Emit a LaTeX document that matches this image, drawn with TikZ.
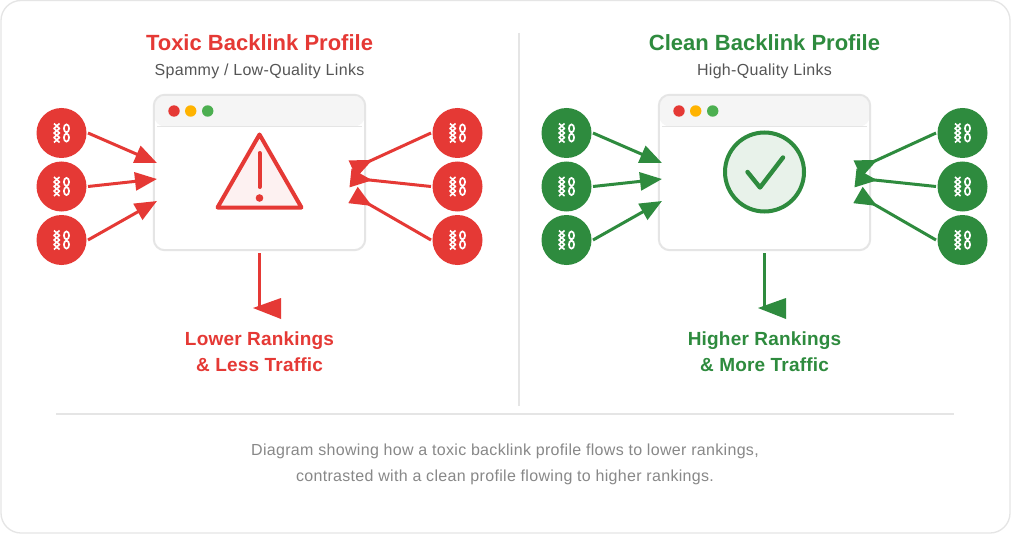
\documentclass[tikz,border=0pt]{standalone}
\usepackage{fontspec}
\setmainfont{Liberation Sans}
\usetikzlibrary{arrows.meta}
\definecolor{toxic}{HTML}{E53935}
\definecolor{clean}{HTML}{2E8B3E}
\definecolor{edge}{HTML}{E5E5E5}
\definecolor{headfill}{HTML}{F5F5F5}
\definecolor{subtxt}{HTML}{555555}
\definecolor{captxt}{HTML}{888888}
\definecolor{amber}{HTML}{FFB300}
\definecolor{lime}{HTML}{4CAF50}
\tikzset{
  x=1pt,y=-1pt,
  linkdot/.style={circle,inner sep=0pt,minimum size=50pt,outer sep=1.5pt},
  win/.style={draw=edge,line width=2pt,rounded corners=11pt},
  link/.style={line width=3pt},
  inhead/.style={-{Triangle[length=22pt,width=18pt]}},
  backhead/.style={-{Triangle[reversed,length=22pt,width=18pt]}},
  ttl/.style={font=\fontsize{22}{26}\selectfont\bfseries},
  subttl/.style={font=\fontsize{16}{19}\selectfont\addfontfeature{LetterSpace=2},text=subtxt},
  res/.style={font=\fontsize{19}{25.5}\selectfont\bfseries\addfontfeature{LetterSpace=1},align=center},
  captiontext/.style={font=\fontsize{16}{26}\selectfont\addfontfeature{LetterSpace=2},text=captxt,align=center},
  chainicon/.pic={
    \draw[white,line width=1.6pt,line join=round]
      (-7.5,-9.5)--(-2,-4.5)--(-7.5,0)--(-2,4.5)--(-7.5,9.5)
      (-2,-9.5)--(-7.5,-4.5)--(-2,0)--(-7.5,4.5)--(-2,9.5);
    \draw[white,line width=1.7pt] (5,-4.6) ellipse [x radius=2.6,y radius=4]
      (5,4.6) ellipse [x radius=2.6,y radius=4];
  }
}
% #1 name prefix, #2 colour
\newcommand{\profilepanel}[2]{
  \node[linkdot,fill=#2] (#1a) at (61.5,133) {};
  \node[linkdot,fill=#2] (#1b) at (61.5,186.5) {};
  \node[linkdot,fill=#2] (#1c) at (61.5,240) {};
  \node[linkdot,fill=#2] (#1d) at (457.5,133) {};
  \node[linkdot,fill=#2] (#1e) at (457.5,186.5) {};
  \node[linkdot,fill=#2] (#1f) at (457.5,240) {};
  \path (61.5,133) pic {chainicon} (61.5,186.5) pic {chainicon} (61.5,240) pic {chainicon}
        (457.5,133) pic {chainicon} (457.5,186.5) pic {chainicon} (457.5,240) pic {chainicon};
  % browser window
  \fill[headfill,rounded corners=11pt] (154,126.5) -- (154,96) -- (365,96) -- (365,126.5) -- cycle;
  \draw[edge,line width=1pt] (157,126.5) -- (362,126.5);
  \node[draw=none,inner sep=0pt,minimum width=211pt,minimum height=155pt] (#1w) at (259.5,172.5) {};
  \draw[win] (#1w.south west) rectangle (#1w.north east);
  \fill[toxic] (174,111) circle (5.7);
  \fill[amber] (190.7,111) circle (5.7);
  \fill[lime] (207.7,111) circle (5.7);
  % named ends on the window
  \coordinate (#1ta) at (157,163);
  \coordinate (#1tb) at (157,179);
  \coordinate (#1tc) at (157,201);
  \coordinate (#1td) at (352.5,169);
  \coordinate (#1te) at (350.5,178);
  \coordinate (#1tf) at (353,195);
  \coordinate (#1dn) at (259.5,308);
  \draw[link,inhead,#2] (#1a.east) -- (#1ta);
  \draw[link,inhead,#2] (#1b.east) -- (#1tb);
  \draw[link,inhead,#2] (#1c.east) -- (#1tc);
  \draw[link,backhead,#2] (#1d.west) -- (#1td);
  \draw[link,backhead,#2] (#1e.west) -- (#1te);
  \draw[link,backhead,#2] (#1f.west) -- (#1tf);
  \draw[link,#2] (259.5,253) -- (#1dn);
  \fill[#2] (253,308) -- (281,298) -- (281,319) -- cycle;
}
\begin{document}
\begin{tikzpicture}
\useasboundingbox (0,0) rectangle (1024,548);
\fill[white] (0,0) rectangle (1024,548);
\draw[edge,line width=1.3pt,rounded corners=20pt] (1,0.5) rectangle (1010,533);
\draw[edge,line width=1.2pt] (519,33) -- (519,406);
\draw[edge,line width=1.2pt] (56,414) -- (954,414);

\profilepanel{p}{toxic}
\begin{scope}[xshift=505pt]
\profilepanel{q}{clean}
\end{scope}

% warning sign
\draw[toxic,fill=toxic!7,line width=4pt,line join=round] (259.5,134.5) -- (301.5,207.5) -- (217.5,207.5) -- cycle;
\draw[toxic,line width=4pt,line cap=round] (259.5,153) -- (259.5,187);
\fill[toxic] (259.5,198) circle (3.8);

% check badge
\draw[clean,fill=clean!11,line width=4pt] (764.5,172) circle (39.5);
\draw[clean,line width=4.4pt,line cap=round,line join=round] (747.5,172) -- (760,187.5) -- (783,157.5);

\node[ttl,text=toxic] (t1) at (259.5,43) {Toxic Backlink Profile};
\node[subttl] (s1) at (259.5,71) {Spammy / Low-Quality Links};
\node[ttl,text=clean] (t2) at (764.5,43) {Clean Backlink Profile};
\node[subttl] (s2) at (764.5,71) {High-Quality Links};
\node[res,text=toxic] (r1) at (259.5,351.5) {Lower Rankings\\\& Less Traffic};
\node[res,text=clean] (r2) at (764.5,351.5) {Higher Rankings\\\& More Traffic};
\node[captiontext] (c) at (505,464) {Diagram showing how a toxic backlink profile flows to lower rankings,\\contrasted with a clean profile flowing to higher rankings.};
\end{tikzpicture}
\end{document}
